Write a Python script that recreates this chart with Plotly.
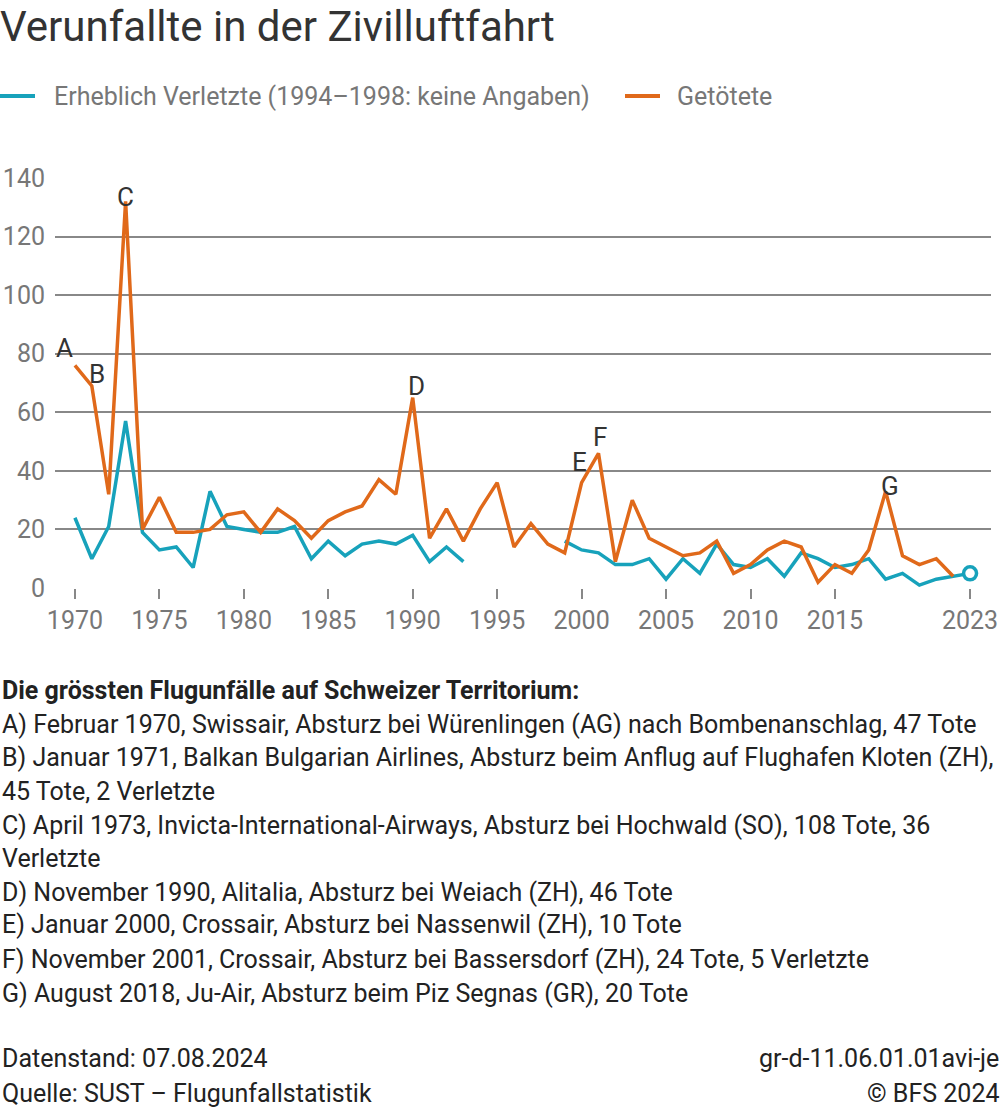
import plotly.graph_objects as go

years = list(range(1970, 2024))

getoetete = [76, 69, 32, 132, 20, 31, 19, 19, 20, 25,
             26, 19, 27, 23, 17, 23, 26, 28, 37, 32,
             65, 17, 27, 16, 27, 36, 14, 22, 15, 12,
             36, 46, 9, 30, 17, 14, 11, 12, 16, 5,
             8, 13, 16, 14, 2, 8, 5, 13, 33, 11,
             8, 10, 4, None]

verletzte = [24, 10, 21, 57, 19, 13, 14, 7, 33, 21,
             20, 19, 19, 21, 10, 16, 11, 15, 16, 15,
             18, 9, 14, 9, None, None, None, None, None, 16,
             13, 12, 8, 8, 10, 3, 10, 5, 15, 8,
             7, 10, 4, 12, 10, 7, 8, 10, 3, 5,
             1, 3, 4, 5]

series_names = ["Erheblich Verletzte (1994–1998: keine Angaben)", "Getötete"]

tick_vals = [1970, 1975, 1980, 1985, 1990, 1995, 2000, 2005, 2010, 2015, 2023]
tick_text = [str(v) for v in tick_vals]

labels = ["A", "B", "C", "D", "E", "F", "G"]
label_x = [1969.4, 1971.3, 1973.0, 1990.2, 1999.9, 2001.1, 2018.25]
label_y = [82, 73, 133.5, 69, 43, 51.5, 35]

notes_title = "Die grössten Flugunfälle auf Schweizer Territorium:"
notes = [
    "A) Februar 1970, Swissair, Absturz bei Würenlingen (AG) nach Bombenanschlag, 47 Tote",
    "B) Januar 1971, Balkan Bulgarian Airlines, Absturz beim Anflug auf Flughafen Kloten (ZH),",
    "45 Tote, 2 Verletzte",
    "C) April 1973, Invicta-International-Airways, Absturz bei Hochwald (SO), 108 Tote, 36",
    "Verletzte",
    "D) November 1990, Alitalia, Absturz bei Weiach (ZH), 46 Tote",
    "E) Januar 2000, Crossair, Absturz bei Nassenwil (ZH), 10 Tote",
    "F) November 2001, Crossair, Absturz bei Bassersdorf (ZH), 24 Tote, 5 Verletzte",
    "G) August 2018, Ju-Air, Absturz beim Piz Segnas (GR), 20 Tote",
]
footer_left = ["Datenstand: 07.08.2024", "Quelle: SUST – Flugunfallstatistik"]
footer_right = ["gr-d-11.06.01.01avi-je", "© BFS 2024"]

BLUE = "#17a2bb"
ORANGE = "#e0691a"
TXT = "#333333"
DARK = "#222222"
GRAY = "#777777"
FONT = "Roboto"

W, H = 1004, 1110
L, R, T, B = 55, 13, 178, 522
PH = H - T - B
PW = W - L - R


def py2paper(py):
    return (H - B - py) / PH


def px2paper(px):
    return (px - L) / PW


fig = go.Figure()
fig.add_trace(go.Scatter(
    x=years, y=verletzte, mode="lines", name=series_names[0], showlegend=False,
    line=dict(color=BLUE, width=3.5), connectgaps=False))
fig.add_trace(go.Scatter(
    x=years, y=getoetete, mode="lines", name=series_names[1], showlegend=False,
    line=dict(color=ORANGE, width=3.5), connectgaps=False))
fig.add_trace(go.Scatter(
    x=[years[-1]], y=[verletzte[-1]], mode="markers", showlegend=False,
    marker=dict(size=13, color="white", line=dict(color=BLUE, width=3.5))))

shapes = []
annotations = []

# manual legend
for (x0, x1, xt), col, name in zip([(0, 35, 52), (625, 660, 675)], [BLUE, ORANGE], series_names):
    shapes.append(dict(type="line", xref="paper", yref="paper",
                       x0=px2paper(x0), x1=px2paper(x1), y0=py2paper(96), y1=py2paper(96),
                       line=dict(color=col, width=4)))
    annotations.append(dict(x=px2paper(xt), y=py2paper(96), xref="paper", yref="paper",
                            text=name, showarrow=False, xanchor="left", yanchor="middle",
                            font=dict(family=FONT, size=25, color=GRAY)))

for lab, lx, ly in zip(labels, label_x, label_y):
    annotations.append(dict(x=lx, y=ly, xref="x", yref="y", text=lab, showarrow=False,
                            font=dict(family=FONT, size=26, color=TXT)))

annotations.append(dict(x=px2paper(-2), y=py2paper(27), xref="paper", yref="paper",
                        text="Verunfallte in der Zivilluftfahrt", showarrow=False,
                        xanchor="left", yanchor="middle",
                        font=dict(family=FONT, size=42, color=TXT)))

annotations.append(dict(x=px2paper(0), y=py2paper(690), xref="paper", yref="paper",
                        text="<b>" + notes_title + "</b>", showarrow=False,
                        xanchor="left", yanchor="middle",
                        font=dict(family=FONT, size=25, color=DARK)))
note_ys = [724, 757, 791, 825, 858, 892, 925, 959, 993]
for t, yy in zip(notes, note_ys):
    annotations.append(dict(x=px2paper(0), y=py2paper(yy), xref="paper", yref="paper",
                            text=t, showarrow=False, xanchor="left", yanchor="middle",
                            font=dict(family=FONT, size=25, color=DARK)))
for t, yy in zip(footer_left, [1058, 1093]):
    annotations.append(dict(x=px2paper(0), y=py2paper(yy), xref="paper", yref="paper",
                            text=t, showarrow=False, xanchor="left", yanchor="middle",
                            font=dict(family=FONT, size=25, color=DARK)))
for t, yy in zip(footer_right, [1058, 1093]):
    annotations.append(dict(x=px2paper(1001), y=py2paper(yy), xref="paper", yref="paper",
                            text=t, showarrow=False, xanchor="right", yanchor="middle",
                            font=dict(family=FONT, size=25, color=DARK)))

fig.update_layout(
    width=W, height=H,
    margin=dict(l=L, r=R, t=T, b=B, pad=0, autoexpand=False),
    paper_bgcolor="white", plot_bgcolor="white",
    font=dict(family=FONT, color=GRAY, size=25),
    showlegend=False,
    shapes=shapes,
    annotations=annotations,
    xaxis=dict(range=[1968.82, 2024.24], tickvals=tick_vals, ticktext=tick_text,
               showgrid=False, zeroline=False, showline=False,
               ticks="outside", ticklen=10, tickwidth=1.5, tickcolor="#888888",
               tickfont=dict(family=FONT, size=25, color=GRAY)),
    yaxis=dict(range=[0, 140], tickvals=[0, 20, 40, 60, 80, 100, 120, 140],
               showgrid=True, gridcolor="#888888", gridwidth=1.5, zeroline=False,
               showline=False, ticks="", ticklabelstandoff=9,
               tickfont=dict(family=FONT, size=25, color=GRAY)),
)

fig.write_html("out.html",
               config={"displayModeBar": False},
               post_script="document.body.style.margin='0';document.body.style.padding='0';"
                           "document.body.style.overflow='hidden';")
